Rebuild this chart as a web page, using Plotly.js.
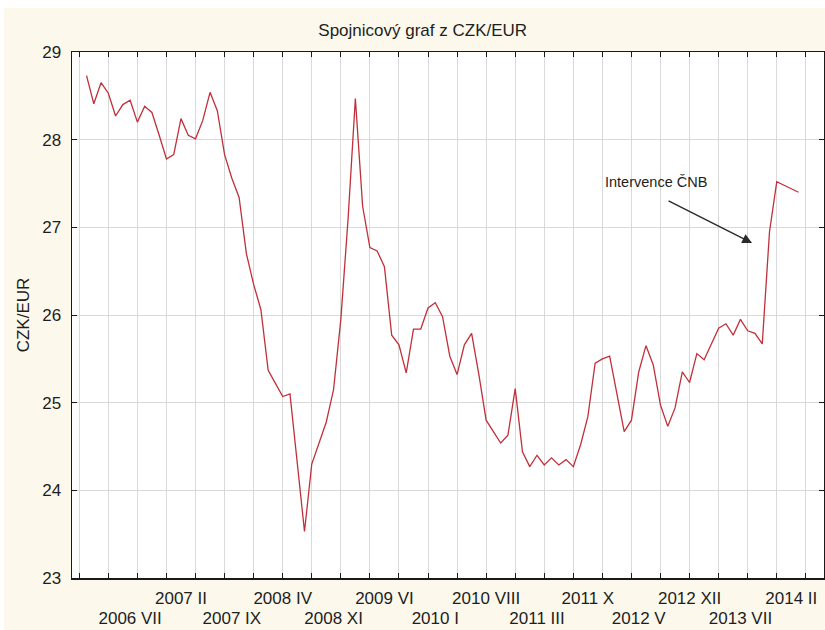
<!DOCTYPE html>
<html>
<head>
<meta charset="utf-8">
<script src="https://cdn.plot.ly/plotly-3.0.1.min.js"></script>
<style>
  html, body { margin: 0; padding: 0; background: #ffffff; }
  #chart { position: absolute; left: 4px; top: 8px; width: 821px; height: 622px; }
</style>
</head>
<body>
<div id="chart"></div>
<script>
// Monthly case names (2006 I ... 2014 III)
const years = [2006, 2007, 2008, 2009, 2010, 2011, 2012, 2013, 2014];
const romanMonths = ['I','II','III','IV','V','VI','VII','VIII','IX','X','XI','XII'];
const months = [];
years.forEach(function (yr) {
  romanMonths.forEach(function (m) { months.push(yr + ' ' + m); });
});
months.length = 99; // through 2014 III

// CZK/EUR values
const rate2006 = [28.73, 28.41, 28.65, 28.53, 28.27, 28.40, 28.45, 28.20, 28.38, 28.31, 28.05, 27.78];
const rate2007 = [27.83, 28.24, 28.05, 28.01, 28.22, 28.54, 28.33, 27.83, 27.56, 27.34, 26.70, 26.35];
const rate2008 = [26.06, 25.37, 25.22, 25.07, 25.10, 24.30, 23.53, 24.30, 24.55, 24.78, 25.15, 25.95];
const rate2009 = [27.10, 28.47, 27.24, 26.77, 26.73, 26.55, 25.77, 25.66, 25.34, 25.84, 25.84, 26.08];
const rate2010 = [26.14, 25.98, 25.53, 25.32, 25.66, 25.79, 25.32, 24.80, 24.67, 24.54, 24.63, 25.16];
const rate2011 = [24.44, 24.27, 24.40, 24.29, 24.37, 24.29, 24.35, 24.27, 24.52, 24.84, 25.45, 25.50];
const rate2012 = [25.53, 25.12, 24.67, 24.80, 25.35, 25.65, 25.43, 24.97, 24.73, 24.94, 25.35, 25.23];
const rate2013 = [25.56, 25.49, 25.68, 25.85, 25.90, 25.77, 25.95, 25.82, 25.79, 25.67, 26.95, 27.52];
const rate2014 = [27.48, 27.44, 27.40];

const rates = [].concat(rate2006, rate2007, rate2008, rate2009, rate2010,
                        rate2011, rate2012, rate2013, rate2014);

// Tick labels shown on the x axis (two staggered rows)
const labelsUpper = ['2007 II', '2008 IV', '2009 VI', '2010 VIII', '2011 X', '2012 XII', '2014 II'];
const labelsLower = ['2006 VII', '2007 IX', '2008 XI', '2010 I', '2011 III', '2012 V', '2013 VII'];

const caseNo = months.map(function (_, i) { return i + 1; });
const posOf = function (lbl) { return months.indexOf(lbl) + 1; };

const fontFam = '"Liberation Sans", Arial, sans-serif';
const txtColor = '#1e1e1e';
const xRange = [-1, 102.5];

const traces = [
  {
    x: caseNo, y: rates, type: 'scatter', mode: 'lines',
    line: { color: '#c0303a', width: 1.3 },
    hoverinfo: 'skip', showlegend: false
  },
  { x: [], y: [], xaxis: 'x2', yaxis: 'y', type: 'scatter', showlegend: false },
  { x: [], y: [], xaxis: 'x3', yaxis: 'y', type: 'scatter', showlegend: false }
];

const commonX = {
  range: xRange, zeroline: false, showgrid: false,
  tickfont: { family: fontFam, size: 17, color: txtColor },
  ticks: '', showline: false, fixedrange: true
};

const layout = {
  width: 821, height: 622,
  margin: { l: 68, r: 1, t: 44, b: 52 },
  paper_bgcolor: '#fcf8ec',
  plot_bgcolor: '#ffffff',
  font: { family: fontFam, color: txtColor },
  title: {
    text: 'Spojnicový graf z CZK/EUR',
    font: { family: fontFam, size: 17, color: txtColor },
    x: 0.51, xanchor: 'center', y: 0.965, yanchor: 'middle'
  },
  xaxis: {
    range: xRange, tick0: 0, dtick: 4, showticklabels: false,
    showgrid: true, gridcolor: '#d9d9d9', gridwidth: 1,
    ticks: 'inside', ticklen: 5, tickcolor: '#1a1a1a', tickwidth: 1,
    showline: true, linecolor: '#1a1a1a', linewidth: 1.5, mirror: 'ticks',
    zeroline: false, fixedrange: true
  },
  xaxis2: Object.assign({}, commonX, {
    overlaying: 'x', anchor: 'y', side: 'bottom',
    tickmode: 'array', tickvals: labelsUpper.map(posOf), ticktext: labelsUpper,
    ticklabelstandoff: 8
  }),
  xaxis3: Object.assign({}, commonX, {
    overlaying: 'x', anchor: 'y', side: 'bottom',
    tickmode: 'array', tickvals: labelsLower.map(posOf), ticktext: labelsLower,
    ticklabelstandoff: 28
  }),
  yaxis: {
    range: [23, 29], dtick: 1, tick0: 23,
    showgrid: true, gridcolor: '#d9d9d9', gridwidth: 1,
    ticks: 'inside', ticklen: 5, tickcolor: '#1a1a1a',
    showline: true, linecolor: '#1a1a1a', linewidth: 1.5, mirror: 'ticks',
    zeroline: false, fixedrange: true,
    tickfont: { family: fontFam, size: 17, color: txtColor },
    ticklabelstandoff: 6,
    title: { text: 'CZK/EUR', font: { family: fontFam, size: 17, color: txtColor }, standoff: 8 }
  },
  annotations: [
    {
      x: 92.6, y: 26.82, xref: 'x', yref: 'y',
      ax: 80.9, ay: 27.31, axref: 'x', ayref: 'y',
      text: '', showarrow: true, arrowhead: 2, arrowsize: 1.4,
      arrowwidth: 1.4, arrowcolor: '#2a2a2a', standoff: 0
    },
    {
      x: 79.4, y: 27.52, xref: 'x', yref: 'y',
      text: 'Intervence ČNB', showarrow: false,
      font: { family: fontFam, size: 14.5, color: txtColor },
      xanchor: 'center', yanchor: 'middle'
    }
  ]
};

Plotly.newPlot('chart', traces, layout, { displayModeBar: false, staticPlot: true });
</script>
</body>
</html>
